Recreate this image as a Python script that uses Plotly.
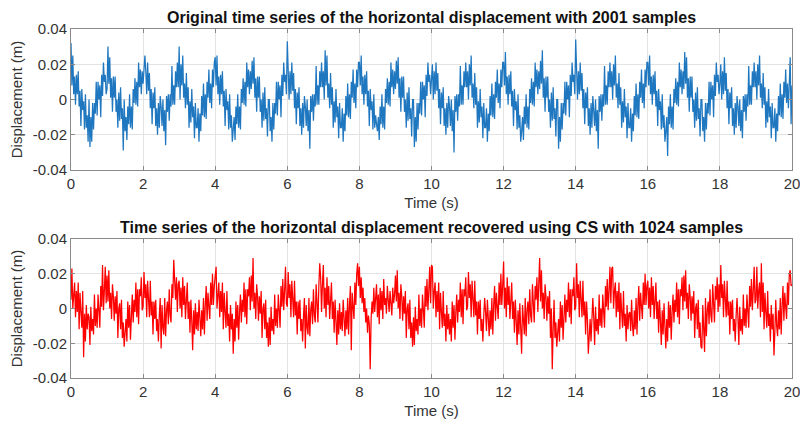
import numpy as np
import plotly.graph_objects as go

dt = 0.025

# Original series (mm), one row per second (40 values)
original_mm = [
    32, 8, 25, 3, 13, -3, 14, 3, 16, -4, 5, -15, 6, -6, -1, -17, 3, -16, -9, -24, 0, -27, -10, -24, -2, -17, -2, -8, 10, -9, 10, 0, 8, -10, 14, 2, 21, 10, 14, 3,
    6, 30, 9, 24, 1, 12, -7, 13, 1, 13, -7, 0, -16, 4, -12, 7, -11, -5, -29, 0, -18, -10, -23, -4, -14, 3, -16, -4, -17, 6, -2, 12, -3, 10, -4, 21, 7, 17, 3, 16,
    9, 20, 25, 16, 3, 21, 5, 15, -5, 6, -14, 4, -5, 7, -15, -5, -20, -2, -16, 2, -4, -15, 0, -18, -6, -26, 2, -7, 3, -12, 3, -4, 19, -3, 8, -3, 16, 7, 21, 7,
    30, 0, 20, 8, 25, 1, 9, -5, 15, -3, 7, -16, -1, -13, 6, -10, -4, -22, -2, -16, -16, -5, -24, -8, -18, 2, -9, 9, -10, 3, -11, 10, 1, 17, -2, 9, -5, 17, 7, 21,
    24, 8, 25, 3, 13, -3, 14, 3, 16, -4, 5, -15, 6, -6, -1, -17, 3, -16, -9, -24, -18, -10, -23, -4, -14, 3, -16, -4, -17, 6, -2, 12, -3, 10, -4, 21, 7, 17, 3, 16,
    6, 22, 9, 24, 1, 12, -7, 13, 1, 13, -7, 0, -16, 4, -12, 7, -11, -5, -21, 0, 0, -18, -10, -24, -2, -17, -2, -8, 10, -9, 10, 0, 8, -10, 14, 2, 21, 10, 14, 3,
    33, 20, 0, 16, 3, 21, 5, 15, -5, 6, -14, 4, -5, 7, -15, -5, -20, -2, -16, 2, -4, -15, 0, -18, -6, -28, 2, -7, 3, -12, 3, -4, 19, -3, 8, -3, 16, 7, 21, 7,
    16, 0, 28, 8, 25, 1, 9, -5, 15, -3, 7, -16, -1, -13, 6, -10, -4, -22, -2, -16, -16, -5, -24, -8, -18, 2, -9, 9, -10, 3, -11, 10, 1, 17, -2, 9, -5, 17, 7, 21,
    21, 8, 25, 3, 13, -3, 14, 3, 16, -4, 5, -15, 6, -6, -1, -17, 3, -16, -9, -14, -18, -10, -23, -4, -14, 3, -16, -4, -17, 6, -2, 12, -3, 10, -4, 21, 7, 17, 3, 16,
    6, 22, 9, 24, 1, 12, -7, 13, 1, 13, -7, 0, -16, 4, -12, 7, -11, -5, -21, 0, 0, -27, -10, -24, -2, -17, -2, -8, 10, -9, 10, 0, 8, -10, 14, 2, 21, 10, 14, 3,
    9, 20, 0, 16, 3, 21, 5, 15, -5, 6, -14, 4, -5, 7, -15, -5, -20, -2, -16, 2, -4, -15, 0, -18, -6, -30, 2, -7, 3, -12, 3, -4, 19, -3, 8, -3, 16, 7, 21, 7,
    16, 0, 20, 8, 25, 1, 9, -5, 15, -3, 7, -16, -1, -13, 6, -10, -4, -22, -2, -16, -16, -5, -24, -8, -18, 2, -9, 9, -10, 3, -11, 10, 1, 17, -2, 9, -5, 17, 7, 21,
    21, 8, 27, 3, 13, -3, 14, 3, 16, -4, 5, -15, 6, -6, -1, -17, 3, -16, -9, -24, -18, -10, -23, -4, -14, 3, -16, -4, -17, 6, -2, 12, -3, 10, -4, 21, 7, 17, 3, 16,
    6, 22, 9, 28, 1, 12, -7, 13, 1, 13, -7, 0, -16, 4, -12, 7, -11, -5, -21, 0, 0, -28, -10, -24, -2, -17, -2, -8, 10, -9, 10, 0, 8, -10, 14, 2, 21, 10, 14, 3,
    34, 20, 0, 16, 3, 21, 5, 15, -5, 6, -14, 4, -5, 7, -15, -5, -20, -2, -16, 2, -4, -15, 0, -18, -6, -28, 2, -7, 3, -12, 3, -4, 19, -3, 8, -3, 16, 7, 21, 7,
    16, 0, 20, 8, 25, 1, 9, -5, 15, -3, 7, -16, -1, -13, 6, -10, -4, -22, -2, -16, -16, -5, -24, -8, -18, 2, -9, 9, -10, 3, -11, 10, 1, 17, -2, 9, -5, 17, 7, 21,
    21, 8, 25, 3, 13, -3, 14, 3, 16, -4, 5, -15, 6, -6, -1, -17, 3, -16, -9, -24, -18, -10, -32, -4, -14, 3, -16, -4, -17, 6, -2, 12, -3, 10, -4, 21, 7, 17, 3, 16,
    6, 27, 9, 24, 1, 12, -7, 13, 1, 13, -7, 0, -16, 4, -12, 7, -11, -5, -21, 0, 0, -18, -10, -24, -2, -17, -2, -8, 10, -9, 10, 0, 8, -10, 14, 2, 21, 10, 14, 3,
    9, 20, 0, 16, 3, 24, 5, 15, -5, 6, -14, 4, -5, 7, -15, -5, -20, -2, -16, 2, -4, -15, 0, -18, -6, -22, 2, -7, 3, -12, 3, -4, 19, -3, 8, -3, 16, 7, 21, 7,
    16, 0, 20, 8, 25, 1, 9, -5, 15, -3, 7, -16, -1, -13, 6, -10, -4, -22, -2, -16, -16, -5, -24, -8, -18, 2, -9, 9, -10, 3, -11, 10, 1, 17, -2, 9, -5, 17, 24, -14,
    8,
]

# Recovered (CS) series (mm), one row per second (40 values)
recovered_mm = [
    5, 23, 0, 10, 15, -5, 10, -2, 15, -12, 9, -2, -11, 10, -28, -3, -19, 2, -12, -3, -5, -21, 1, -13, -6, -15, 8, -10, 0, -11, 8, -1, -11, 13, 1, 25, -1, 10, 24, 3,
    19, 4, 22, 0, 9, -6, 14, 7, -7, 7, -3, 10, -17, 0, 3, -12, 5, -17, -8, -22, -15, -6, -19, 4, -11, 2, -18, -2, 8, -8, 5, -2, 15, -5, 11, -9, 11, 7, 18, -1,
    1, 21, 6, 14, -5, 16, 4, -5, 16, -4, 4, -15, 4, -6, 5, -13, -6, -19, -4, 6, -23, 2, -11, -15, 6, -16, -1, 4, -9, 11, -4, -8, 14, 6, 28, 13, 5, 18, -2, 14,
    16, 0, 12, -5, 18, 2, 13, -6, 5, 15, -6, 4, -14, 5, -7, -24, -1, -15, 3, -12, -2, -13, 5, -10, -16, -1, -12, 6, -15, 2, 13, -7, 9, 1, -6, 15, 2, 20, 2, 13,
    22, 24, 0, 10, 15, -5, 10, -2, 15, -12, 9, -2, -11, 10, -10, -3, -19, 2, -12, -3, -26, -6, -19, 4, -11, 2, -18, -2, 8, -8, 5, -2, 15, -5, 11, -9, 11, 7, 18, -1,
    19, 4, 29, 0, 9, -6, 14, 7, -7, 7, -3, 10, -17, 0, 3, -12, 5, -17, -8, -22, -5, -21, 1, -13, -6, -15, 8, -10, 0, -11, 8, -1, -11, 13, 1, 17, -1, 10, 24, 3,
    1, 21, 6, 14, -5, 16, 4, -5, 16, -4, 4, -15, 4, -6, 5, -13, -6, -19, -4, 6, -23, 2, -11, -15, 6, -16, -1, 4, -9, 11, -4, -8, 14, 6, -8, 13, 26, 18, -2, 14,
    25, 0, 12, -5, 18, 2, 13, -6, 5, 15, -6, 4, -14, 5, -7, -21, -1, -15, 3, -12, -2, -13, 5, -10, -16, -1, -12, 6, -15, 2, 13, -24, 9, 1, -6, 15, 2, 20, 26, 13,
    24, 6, 18, 3, 12, -2, 6, -8, 0, -14, -4, -9, -35, -6, 4, -3, 12, -2, 8, 14, -5, 8, -9, 12, -1, 10, -6, 17, 2, 6, -3, 13, 5, -2, 10, 4, -4, 12, 3, 8,
    19, 4, 22, 0, 9, -6, 14, 7, -7, 7, -3, 10, -17, 0, 3, -12, 5, -17, -8, -22, -5, -21, 1, -13, -6, -15, 8, -10, 0, -11, 8, -1, -11, 13, 1, 17, -1, 10, 24, 3,
    25, 24, 0, 10, 15, -5, 10, -2, 15, -12, 9, -2, -11, 10, -10, -3, -19, 2, -12, -3, -15, -6, -19, 4, -11, 2, -18, -2, 8, -8, 5, -2, 15, -5, 11, -9, 11, 7, 18, -1,
    1, 21, 6, 14, -5, 16, 4, -5, 16, -4, 4, -15, 4, -6, 5, -13, -6, -19, -4, 6, -2, -13, 5, -10, -16, -1, -12, 6, -15, 2, 13, -7, 9, 1, -6, 15, 2, 20, 2, 13,
    27, 0, 12, -5, 18, 2, 13, -6, 5, 15, -6, 4, -14, 5, -7, -21, -1, -15, 3, -12, -26, 2, -11, -15, 6, -16, -1, 4, -9, 11, -4, -8, 14, 6, -8, 13, 5, 18, -2, 14,
    29, 4, 22, 0, 9, -6, 14, 7, -7, 7, -3, 10, -17, 0, -35, -12, 5, -17, -8, -22, -15, -6, -19, 4, -11, 2, -18, -2, 8, -8, 5, -2, 15, -5, 11, -9, 11, 7, 18, -1,
    1, 26, 6, 14, -5, 16, 4, -5, 16, -4, 4, -15, 4, -6, -26, -13, -6, -19, -4, 6, -5, -21, 1, -13, -6, -15, 8, -10, 0, -11, 8, -1, -11, 13, 1, 17, -1, 10, 24, 3,
    23, 24, 0, 10, 15, -5, 10, -2, 15, -12, 9, -2, -11, 10, -10, -3, -19, 2, -12, -3, -2, -13, 5, -10, -16, -1, -12, 6, -15, 2, 13, -7, 9, 1, -6, 15, 2, 20, 2, 13,
    16, 0, 12, -5, 18, 2, 13, -6, 5, 15, -6, 4, -14, 5, -7, -21, -1, -15, 3, -12, -23, -6, -19, 4, -11, 2, -18, -2, 8, -8, 5, -2, 15, -5, 11, -9, 11, 7, 18, -1,
    19, 4, 22, 0, 9, -6, 14, 7, -7, 7, -3, 10, -17, 0, 3, -12, 5, -17, -8, -22, -23, 2, -11, -25, 6, -16, -1, 4, -9, 11, -4, -8, 14, 6, -8, 13, 5, 18, -2, 14,
    1, 25, 6, 14, -5, 16, 4, -5, 16, -4, 4, -15, 4, -6, 5, -13, -6, -19, -4, 6, -5, -21, 1, -13, -6, -15, 8, -10, 0, -11, 8, -1, -11, 13, 1, 17, -1, 10, 24, 3,
    5, 24, 0, 10, 15, -5, 26, -2, 15, -12, 9, -2, -11, 10, -10, -3, -19, 2, -12, -3, -27, -13, 5, -10, -16, -1, -12, 6, -15, 2, 13, -7, 9, 1, -6, 15, 2, 20, 22, 13,
    14,
]

x_ticks = [0, 2, 4, 6, 8, 10, 12, 14, 16, 18, 20]
y_ticks = [0.04, 0.02, 0, -0.02, -0.04]
y_ticktext = ["0.04", "0.02", "0", "-0.02", "-0.04"]

titles = [
    "Original time series of the horizontal displacement with 2001 samples",
    "Time series of the horizontal displacement recovered using CS with 1024 samples",
]

t_orig = np.arange(len(original_mm)) * dt
t_rec = np.arange(len(recovered_mm)) * dt
y_orig = np.array(original_mm) / 1000.0
y_rec = np.array(recovered_mm) / 1000.0

fig = go.Figure()
fig.add_trace(go.Scatter(x=t_orig, y=y_orig, mode="lines",
                         line=dict(color="#1f77c0", width=1.25), xaxis="x", yaxis="y",
                         showlegend=False))
fig.add_trace(go.Scatter(x=t_rec, y=y_rec, mode="lines",
                         line=dict(color="#FF0000", width=1.25), xaxis="x2", yaxis="y2",
                         showlegend=False))

font_family = "Liberation Sans, Arial, sans-serif"
label_font = dict(family=font_family, size=15, color="#333333")
axis_common = dict(
    showline=True, linecolor="#8a8a8a", linewidth=1, mirror="ticks",
    ticks="inside", ticklen=4, tickcolor="#8a8a8a",
    showgrid=True, gridcolor="#e3e3e3", gridwidth=1, zeroline=False,
    tickfont=label_font, ticklabeloverflow="allow", automargin=False,
)

xd = [71 / 800, 792 / 800]
top_d = [1 - 170 / 424, 1 - 29 / 424]
bot_d = [1 - 378 / 424, 1 - 239 / 424]

fig.update_layout(
    width=800, height=424, autosize=False,
    margin=dict(l=0, r=0, t=0, b=0, pad=0),
    paper_bgcolor="white", plot_bgcolor="white",
    xaxis=dict(domain=xd, range=[0, 20], tickvals=x_ticks, anchor="y",
               title=dict(text="Time (s)", standoff=6, font=label_font),
               **axis_common),
    yaxis=dict(domain=top_d, range=[-0.04, 0.04], tickvals=y_ticks, ticktext=y_ticktext,
               anchor="x",
               title=dict(text="Displacement (m)", standoff=6, font=label_font),
               **axis_common),
    xaxis2=dict(domain=xd, range=[0, 20], tickvals=x_ticks, anchor="y2",
                title=dict(text="Time (s)", standoff=6, font=label_font),
                **axis_common),
    yaxis2=dict(domain=bot_d, range=[-0.04, 0.04], tickvals=y_ticks, ticktext=y_ticktext,
                anchor="x2",
                title=dict(text="Displacement (m)", standoff=6, font=label_font),
                **axis_common),
    annotations=[
        dict(text="<b>" + titles[0] + "</b>", x=(xd[0] + xd[1]) / 2, y=top_d[1],
             xref="paper", yref="paper", xanchor="center", yanchor="bottom", yshift=1,
             showarrow=False, font=dict(family=font_family, size=16, color="#111111")),
        dict(text="<b>" + titles[1] + "</b>", x=(xd[0] + xd[1]) / 2, y=bot_d[1],
             xref="paper", yref="paper", xanchor="center", yanchor="bottom", yshift=1,
             showarrow=False, font=dict(family=font_family, size=16, color="#111111")),
    ],
)

fig.write_html("out.html")
